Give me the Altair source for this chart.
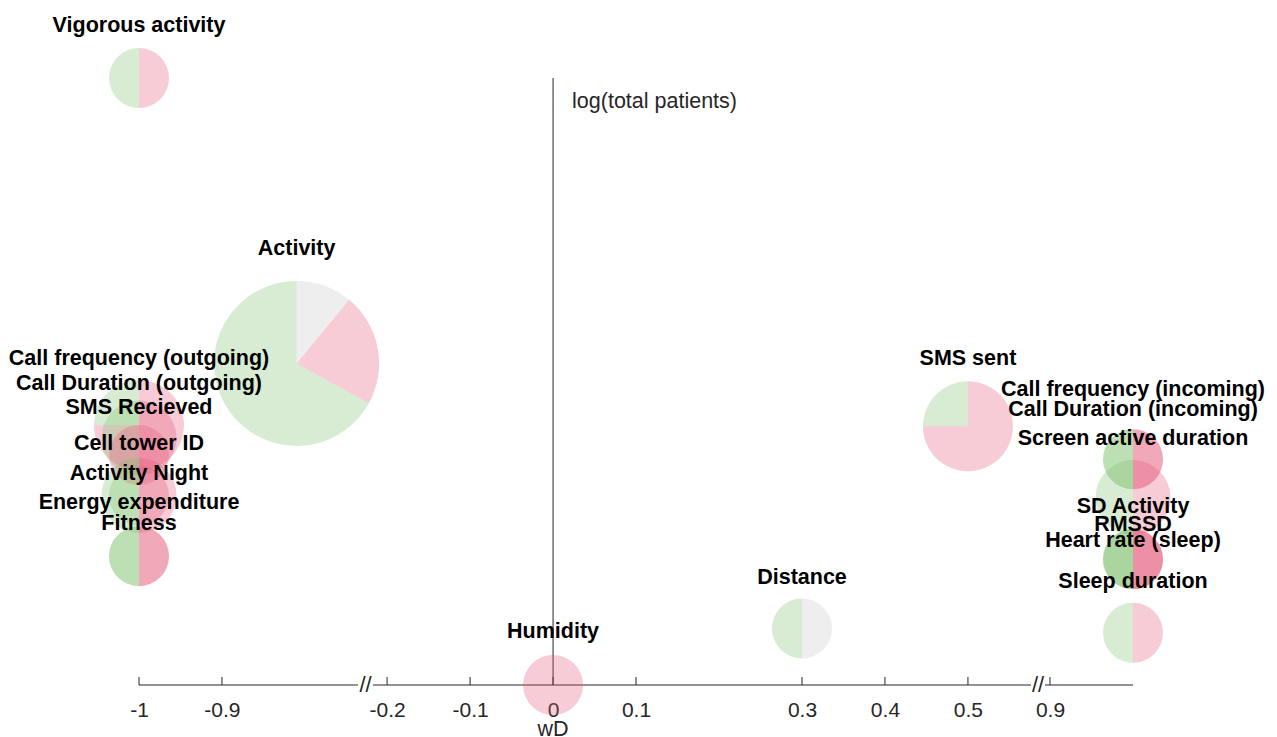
import altair as alt
import pandas as pd

# ---- data ----
names = ["Vigorous activity", "Activity", "Call frequency (outgoing)", "Call Duration (outgoing)",
         "SMS Recieved", "Cell tower ID", "Activity Night", "Energy expenditure", "Fitness",
         "SMS sent", "Call frequency (incoming)", "Call Duration (incoming)", "Screen active duration",
         "SD Activity", "RMSSD", "Heart rate (sleep)", "Sleep duration", "Distance", "Humidity"]
wd = [-1, -0.81, -1, -1, -1, -1, -1, -1, -1, 0.5, 1, 1, 1, 1, 1, 1, 1, 0.3, 0]
log_patients = [8.00, 5.32, 4.74, 4.62, 4.08, 4.46, 4.08, 3.51, 3.51, 4.73,
                4.42, 4.42, 4.06, 3.48, 3.48, 3.48, 2.79, 2.83, 2.30]
label_y = [8.51, 6.41, 5.38, 5.15, 4.92, 4.58, 4.30, 4.03, 3.83, 5.38,
           5.09, 4.90, 4.63, 3.99, 3.82, 3.67, 3.29, 3.32, 2.82]
n_studies = [2, 9, 4, 3, 2, 2, 3, 2, 2, 4, 2, 2, 3, 2, 2, 2, 2, 2, 2]
share_neutral = [0, 0.11, 0, 0, 0, 0, 0, 0, 0, 0, 0, 0, 0, 0, 0, 0, 0, 0.5, 0]
share_negative = [0.5, 0.22, 0.75, 0.5, 0.5, 1, 0.5, 0.5, 0.5, 0.75, 0.5, 0.5, 0.5, 0.5, 0.5, 0.5, 0.5, 0, 1]
share_positive = [0.5, 0.67, 0.25, 0.5, 0.5, 0, 0.5, 0.5, 0.5, 0.25, 0.5, 0.5, 0.5, 0.5, 0.5, 0.5, 0.5, 0.5, 0]

tick_values = [-1, -0.9, -0.2, -0.1, 0, 0.1, 0.3, 0.4, 0.5, 0.9]
seg_start = [-1, -0.217, 0.894]
seg_end = [-0.736, 0.576, 1.0]

# ---- tables ----
rows = []
for i, nm in enumerate(names):
    c = 0.0
    for kind, sh in (("neutral", share_neutral[i]), ("negative", share_negative[i]), ("positive", share_positive[i])):
        if sh > 0:
            rows.append({"name": nm, "wd": wd[i], "logp": log_patients[i], "n": n_studies[i],
                         "kind": kind, "t0": c, "t1": c + sh})
            c += sh
slices = pd.DataFrame(rows)
labels = pd.DataFrame({"name": names, "wd": wd, "ly": label_y})
segs = pd.DataFrame({"s": seg_start, "e": seg_end})
ticks = pd.DataFrame({"t": tick_values})
breaks = pd.DataFrame({"b": [(seg_end[i] + seg_start[i + 1]) / 2 for i in range(len(seg_start) - 1)]})

AX = "#262626"
FONT = "Liberation Sans"
XS = alt.Scale(domain=[-1, -0.736, -0.217, 0.576, 0.894, 1.0],
               range=[131, 350, 365, 1023, 1037, 1125], zero=False, nice=False)
YS = alt.Scale(domain=[2.3, 8.0], range=[677, 70], zero=False, nice=False)
XA = alt.Axis(values=tick_values, domain=False, ticks=False, grid=False, title=None,
              labelFont=FONT, labelFontSize=21, labelColor=AX, labelPadding=14,
              labelFlush=False, labelOverlap=False,
              labelExpr="datum.value < 0 ? '-' + format(-datum.value, '~g') : format(datum.value, '~g')")


def xf(field):
    return alt.X(field, type="quantitative", scale=XS, axis=XA)


def xd(v):
    return alt.X(datum=v, type="quantitative", scale=XS, axis=XA)


def yf(field):
    return alt.Y(field, type="quantitative", scale=YS, axis=None)


def yd(v):
    return alt.Y(datum=v, type="quantitative", scale=YS, axis=None)


seg_layer = alt.Chart(segs).mark_rule(color=AX, strokeWidth=1).encode(
    x=xf("s"), x2="e", y=yd(2.3))
tick_layer = alt.Chart(ticks).mark_rule(color=AX, strokeWidth=1).encode(
    x=xf("t"), y=alt.value(677), y2=alt.value(669))
yline = alt.Chart(pd.DataFrame({"a": [0]})).mark_rule(color=AX, strokeWidth=1).encode(
    x=xd(0), y=yd(8.0), y2=alt.Y2(datum=2.3))
break_layer = alt.Chart(breaks).mark_text(text="//", font=FONT, fontSize=22, color=AX,
                                         baseline="middle", align="center").encode(
    x=xf("b"), y=yd(2.3))

pies = alt.Chart(slices).mark_arc(opacity=0.3, stroke=None).encode(
    x=xf("wd"), y=yf("logp"),
    theta=alt.Theta("t0:Q", stack=None, scale=alt.Scale(domain=[0, 1], range=[0, 6.283185307])),
    theta2="t1:Q",
    radius=alt.Radius("n:Q", scale=alt.Scale(type="linear", domain=[0, 10], range=[15, 90])),
    radius2=alt.value(0),
    color=alt.Color("kind:N", legend=None,
                    scale=alt.Scale(domain=["neutral", "negative", "positive"],
                                    range=["#c6c6c6", "#e45576", "#7dc06c"])),
)

label_layer = alt.Chart(labels).mark_text(font=FONT, fontSize=21.5, fontWeight="bold", color="#000000",
                                          align="center", baseline="middle", dy=2).encode(
    x=xf("wd"), y=yf("ly"), text="name:N")

ytitle = alt.Chart(pd.DataFrame({"a": [0]})).mark_text(
    text="log(total patients)", font=FONT, fontSize=21.5, color=AX, align="left",
    baseline="middle", dx=19, dy=24).encode(x=xd(0), y=yd(8.0))
xtitle = alt.Chart(pd.DataFrame({"a": [0]})).mark_text(
    text="wD", font=FONT, fontSize=21.5, color=AX, align="center",
    baseline="middle").encode(x=xd(0), y=alt.value(722))

chart = alt.layer(seg_layer, tick_layer, yline, break_layer, pies, label_layer, ytitle, xtitle).properties(
    width=1261, height=677,
    autosize=alt.AutoSizeParams(type="none"),
    padding={"left": 0, "top": 0, "right": 0, "bottom": 52},
).configure_view(stroke=None)

chart.save("out.html", embed_options={"renderer": "svg", "actions": False})
